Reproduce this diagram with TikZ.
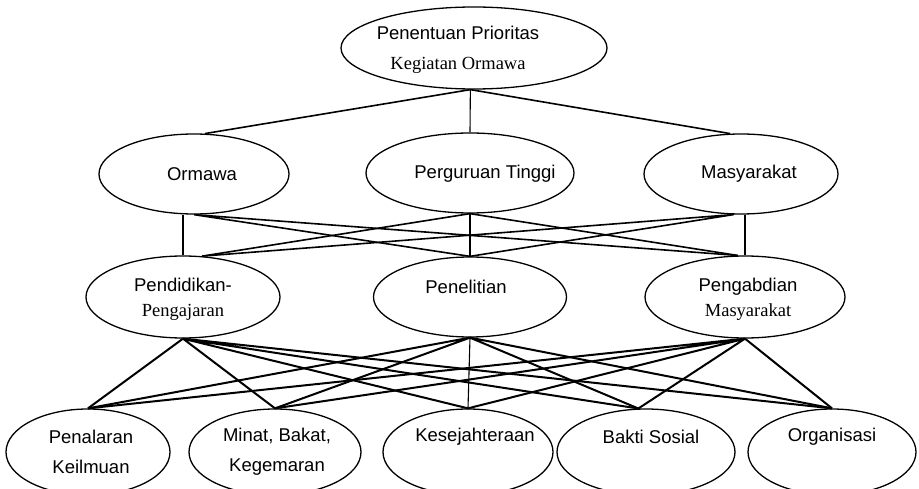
\documentclass[tikz,border=0pt]{standalone}
\usepackage{fontspec}
\setmainfont{Liberation Sans}
\newfontfamily\tmsfont{Liberation Serif}
\usetikzlibrary{shapes.geometric}
\tikzset{
  oval/.style={ellipse, draw, line width=1.3pt, inner sep=0pt},
  lbl/.style={align=center, inner sep=0pt, font=\fontsize{18.5}{25}\selectfont},
  lbltall/.style={lbl, font=\fontsize{18.5}{30}\selectfont},
  link/.style={line width=1.6pt},
  thinlink/.style={line width=1.1pt},
  baselink/.style={line width=2pt}
}

\begin{document}
\begin{tikzpicture}[x=1pt, y=1pt]
  \useasboundingbox (0,0) rectangle (919,-489);

  % goal
  \node[oval, minimum width=266, minimum height=82] (prio) at (474,-48) {};
  \node[lbltall] (prio-t) at (458,-50) {Penentuan Prioritas\\{\tmsfont Kegiatan Ormawa}};

  % actors
  \node[oval, minimum width=190, minimum height=80] (orm) at (194,-174) {};
  \node[oval, minimum width=208, minimum height=80] (pt) at (470,-173) {};
  \node[oval, minimum width=194, minimum height=80] (mas) at (741,-174) {};
  \node[lbl] (orm-t) at (202,-174) {Ormawa};
  \node[lbl] (pt-t) at (485,-174) {Perguruan Tinggi};
  \node[lbl] (mas-t) at (749,-174) {Masyarakat};

  % tri dharma
  \node[oval, minimum width=194, minimum height=82] (pend) at (183,-297) {};
  \node[oval, minimum width=193, minimum height=80] (pen) at (470,-297) {};
  \node[oval, minimum width=200, minimum height=82] (peng) at (745,-297) {};
  \node[lbl] (pend-t) at (183,-299) {Pendidikan-\\{\tmsfont Pengajaran}};
  \node[lbl] (pen-t) at (466,-287) {Penelitian};
  \node[lbl] (peng-t) at (748,-299) {Pengabdian\\{\tmsfont Masyarakat}};

  % kegiatan
  \node[oval, minimum width=164, minimum height=86] (nalar) at (88,-452) {};
  \node[oval, minimum width=172, minimum height=86] (minat) at (275,-452) {};
  \node[oval, minimum width=170, minimum height=86] (sejah) at (468,-452) {};
  \node[oval, minimum width=178, minimum height=86] (bakti) at (646,-452) {};
  \node[oval, minimum width=168, minimum height=86] (organ) at (832,-452) {};
  \node[lbltall] (nalar-t) at (91,-452) {Penalaran\\Keilmuan};
  \node[lbltall] (minat-t) at (277,-452) {Minat, Bakat,\\Kegemaran};
  \node[lbl] (sejah-t) at (475,-437) {Kesejahteraan};
  \node[lbl] (bakti-t) at (651,-437) {Bakti Sosial};
  \node[lbl] (organ-t) at (832,-437) {Organisasi};

  \draw[link] (prio.265) -- (orm.75);
  \draw[thinlink] (prio.265) -- (pt.north);
  \draw[link] (prio.265) -- (mas.105);

  \draw[thinlink] (pend.north |- orm.south) -- (pend.north);
  \draw[thinlink] (pt.south) -- (pen.north);
  \draw[thinlink] (peng.north |- mas.south) -- (peng.north);
  \draw[link] (orm.south) -- (pen.north) (orm.south) -- (peng.100);
  \draw[link] (pt.south) -- (pend.65) (pt.south) -- (peng.100);
  \draw[link] (mas.260) -- (pend.65) (mas.260) -- (pen.north);

  \draw[baselink] (pend.south) -- (nalar.north) (pend.south) -- (minat.north)
    (pend.south) -- (sejah.north) (pend.south) -- (bakti.100) (pend.south) -- (organ.north);
  \draw[baselink] (pen.south) -- (nalar.north) (pen.south) -- (minat.north)
    (pen.south) -- (bakti.100) (pen.south) -- (organ.north);
  \draw[thinlink] (pen.south) -- (sejah.north);
  \draw[baselink] (peng.south) -- (nalar.north) (peng.south) -- (minat.north)
    (peng.south) -- (sejah.north) (peng.south) -- (bakti.100) (peng.south) -- (organ.north);
\end{tikzpicture}
\end{document}
